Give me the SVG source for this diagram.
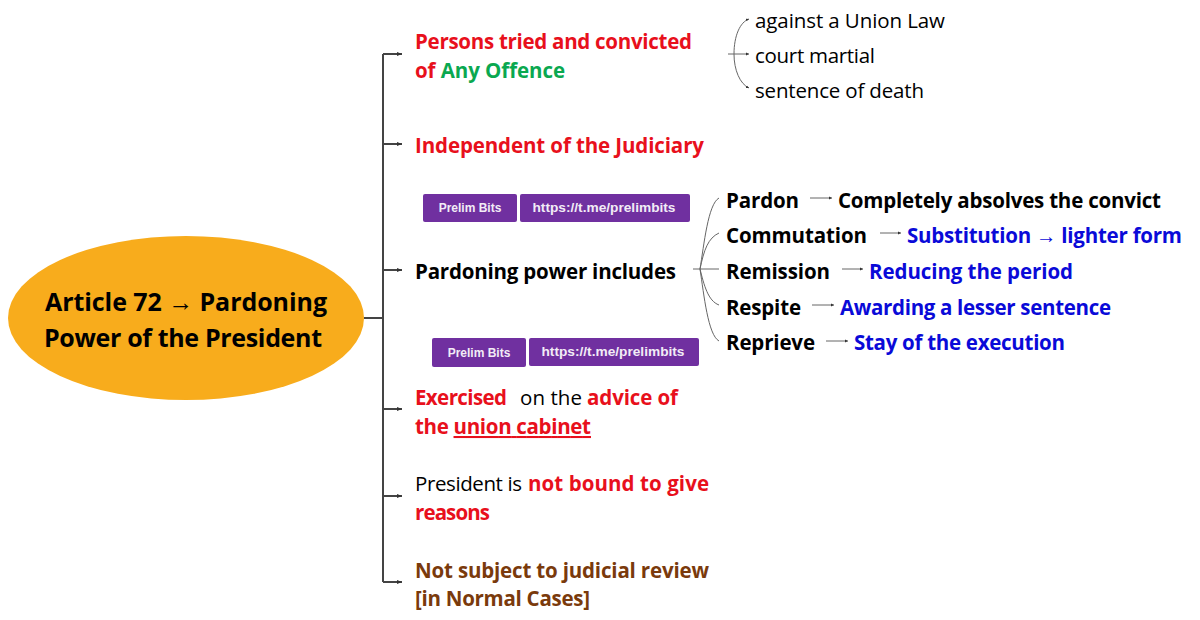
<svg xmlns="http://www.w3.org/2000/svg" width="1200" height="620" viewBox="0 0 1200 620">
<defs>
<marker id="a" markerWidth="6" markerHeight="6" refX="5" refY="3" orient="auto" markerUnits="userSpaceOnUse"><path d="M0 1 L5 3 L0 5 Z" fill="#333"/></marker>
<marker id="c" markerWidth="4" markerHeight="4" refX="3" refY="2" orient="auto" markerUnits="userSpaceOnUse"><path d="M0 .6 L3 2 L0 3.4 Z" fill="#333"/></marker>
</defs>
<style>
text{font-family:"Open Sans","Noto Sans","Liberation Sans",sans-serif;font-size:20.5px;fill:#000}
.b{font-weight:700}
.r{fill:#e8101c}.g{fill:#0aa850}.u{fill:#0a0ad8}.w{fill:#7a3a0c}
.y{font-family:"Liberation Sans",Arial,sans-serif;font-weight:400}
.t{font-family:"Liberation Sans",Arial,sans-serif;font-weight:700;fill:#f2ecf6;font-size:12px;text-anchor:middle}
.h{font-size:13.7px}
.m{stroke:#444;stroke-width:2;fill:none}
.s{stroke:#666;stroke-width:1;fill:none}
.p{fill:#7030a0}
.q{font-size:25px}
</style>
<rect width="1200" height="620" fill="#fff"/>
<g id="connectors">
<path class="m" d="M364 318 H383"/>
<path class="m" d="M383 54 V582"/>
<path class="m" d="M383 54 H402" marker-end="url(#a)"/>
<path class="m" d="M383 144 H402" marker-end="url(#a)"/>
<path class="m" d="M383 270 H402" marker-end="url(#a)"/>
<path class="m" d="M383 409 H402" marker-end="url(#a)"/>
<path class="m" d="M383 496 H402" marker-end="url(#a)"/>
<path class="m" d="M383 582 H402" marker-end="url(#a)"/>
<path class="s" d="M728 54 H749" marker-end="url(#c)"/>
<path class="s" d="M734 54 C734 36 740 22 749 19" marker-end="url(#c)"/>
<path class="s" d="M734 54 C734 70 740 84 749 88" marker-end="url(#c)"/>
<path class="s" d="M693 269 H719"/>
<path class="s" d="M700 269 C704 245 708 204 719 198"/>
<path class="s" d="M700 269 C704 250 708 238 719 233"/>
<path class="s" d="M700 269 C704 285 708 301 719 305"/>
<path class="s" d="M700 269 C704 295 708 335 719 341"/>
<path class="s" d="M810 198 H832" marker-end="url(#c)"/>
<path class="s" d="M880 233 H901" marker-end="url(#c)"/>
<path class="s" d="M842 269 H863" marker-end="url(#c)"/>
<path class="s" d="M812 305 H834" marker-end="url(#c)"/>
<path class="s" d="M826 341 H848" marker-end="url(#c)"/>
</g>
<g id="root"><ellipse cx="186" cy="318" rx="178" ry="82" fill="#f8ac1c"/>
<text class="b q" x="45" y="311" textLength="282">Article 72 <tspan class="y q">→</tspan> Pardoning</text>
<text class="b q" x="44" y="347" textLength="278">Power of the President</text></g>
<g id="n1"><text class="b r" x="415" y="49" textLength="277">Persons tried and convicted</text>
<text class="b" x="415" y="78" textLength="150"><tspan class="r">of </tspan><tspan class="g">Any Offence</tspan></text></g>
<g id="n1a"><text x="755" y="28" textLength="190">against a Union Law</text></g>
<g id="n1b"><text x="755" y="63" textLength="120">court martial</text></g>
<g id="n1c"><text x="755" y="98" textLength="169">sentence of death</text></g>
<g id="n2"><text class="b r" x="415" y="153" textLength="289">Independent of the Judiciary</text></g>
<g id="wm1"><rect class="p" x="423" y="194" width="94" height="28" rx="2"/><text class="t" x="470" y="212">Prelim Bits</text>
<rect class="p" x="520" y="194" width="170" height="28" rx="2"/><text class="t h" x="604" y="212">https://t.me/prelimbits</text></g>
<g id="n3"><text class="b" x="415" y="279" textLength="261">Pardoning power includes</text></g>
<g id="pardon"><text class="b" x="726" y="208" textLength="73">Pardon</text><text class="b" x="838" y="208" textLength="323">Completely absolves the convict</text></g>
<g id="commutation"><text class="b" x="726" y="243" textLength="141">Commutation</text><text class="b u" x="907" y="243" textLength="275">Substitution <tspan class="y u">→</tspan> lighter form</text></g>
<g id="remission"><text class="b" x="726" y="279" textLength="104">Remission</text><text class="b u" x="869" y="279" textLength="204">Reducing the period</text></g>
<g id="respite"><text class="b" x="726" y="315" textLength="75">Respite</text><text class="b u" x="840" y="315" textLength="271">Awarding a lesser sentence</text></g>
<g id="reprieve"><text class="b" x="726" y="350" textLength="89">Reprieve</text><text class="b u" x="854" y="350" textLength="211">Stay of the execution</text></g>
<g id="wm2"><rect class="p" x="432" y="338" width="94" height="29" rx="2"/><text class="t" x="479" y="357">Prelim Bits</text>
<rect class="p" x="529" y="338" width="170" height="28" rx="2"/><text class="t h" x="613" y="356">https://t.me/prelimbits</text></g>
<g id="n4"><text class="b r" x="415" y="405" textLength="92">Exercised</text><text x="520" y="405" textLength="62">on the</text><text class="b r" x="587" y="405" textLength="91">advice of</text>
<text class="b r" x="415" y="434" textLength="176">the <tspan text-decoration="underline">union cabinet</tspan></text></g>
<g id="n5"><text x="415" y="491" textLength="107">President is</text><text class="b r" x="528" y="491" textLength="181">not bound to give</text>
<text class="b r" x="415" y="520" textLength="75">reasons</text></g>
<g id="n6"><text class="b w" x="415" y="578" textLength="294">Not subject to judicial review</text>
<text class="b w" x="415" y="606" textLength="175">[in Normal Cases]</text></g>
</svg>
